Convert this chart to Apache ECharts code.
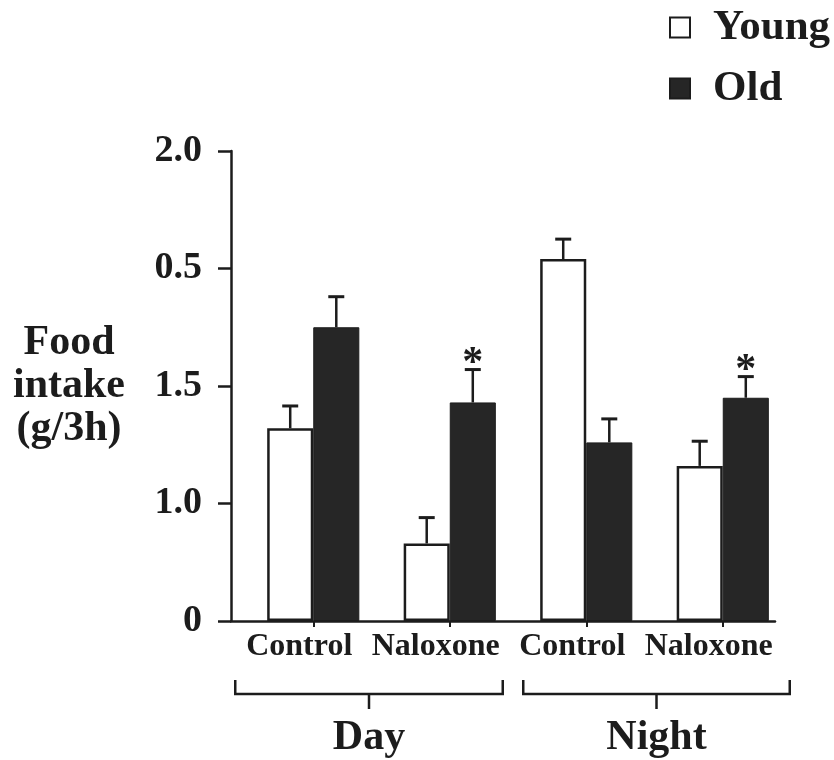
<!DOCTYPE html>
<html>
<head>
<meta charset="utf-8">
<script src="https://cdn.jsdelivr.net/npm/echarts@6/dist/echarts.min.js"></script>
<style>
html,body{margin:0;padding:0;background:#fff;}
#chart{width:834px;height:760px;}
</style>
</head>
<body>
<div id="chart"></div>
<script>
// ---- data ----
const categories = ['Control', 'Naloxone', 'Control', 'Naloxone'];
const periods = ['Day', 'Day', 'Night', 'Night'];
const groupNames = ['Day', 'Night'];
const young = [0.82, 0.33, 1.54, 0.66];
const youngErr = [0.095, 0.11, 0.085, 0.105];
const old = [1.25, 0.93, 0.76, 0.95];
const oldErr = [0.13, 0.14, 0.10, 0.09];
const oldSig = [false, true, false, true];
const yTickValues = [0, 0.5, 1.0, 1.5, 2.0];
const yTickLabels = ['0', '1.0', '1.5', '0.5', '2.0'];

const FONT = '"Liberation Serif", "Times New Roman", serif';
const INK = '#1c1c1c';
const GAP = 0.325;

const chart = echarts.init(document.getElementById('chart'));

const errData = [];
young.forEach((v, i) => errData.push([i, v, youngErr[i], -1, 0]));
old.forEach((v, i) => errData.push([i, v, oldErr[i], 1, oldSig[i] ? 1 : 0]));

const option = {
  animation: false,
  backgroundColor: '#fff',
  legend: {
    data: ['Young', 'Old'],
    orient: 'vertical',
    left: 664,
    top: 1,
    icon: 'rect',
    itemWidth: 20,
    itemHeight: 20,
    itemGap: 18,
    textStyle: { fontFamily: FONT, fontWeight: 'bold', fontSize: 43, color: INK, lineHeight: 43, padding: [0, 0, 0, 18] }
  },
  grid: [
    { left: 245, width: 546, top: 151, height: 470 },
    { left: 231, width: 544, top: 151, height: 470 }
  ],
  xAxis: [
    {
      type: 'category', gridIndex: 0,
      data: categories.map((c, i) => periods[i] + ' ' + c),
      axisLine: { show: false },
      axisTick: { show: true, alignWithLabel: true, length: 6, lineStyle: { color: INK, width: 2 } },
      axisLabel: {
        interval: 0, hideOverlap: false,
        formatter: (v, i) => categories[i],
        fontFamily: FONT, fontWeight: 'bold', fontSize: 32, color: INK,
        margin: 10, padding: [0, 28, 0, 0]
      },
      splitLine: { show: false }
    },
    {
      type: 'value', gridIndex: 1, min: 0, max: 1,
      axisLine: { show: true, onZero: false, lineStyle: { color: INK, width: 2.5 } },
      axisTick: { show: false }, axisLabel: { show: false }, splitLine: { show: false }
    }
  ],
  yAxis: [
    { type: 'value', gridIndex: 0, min: 0, max: 2, show: false },
    {
      type: 'value', gridIndex: 1, min: 0, max: 2, interval: 0.5,
      name: 'Food\nintake\n(g/3h)',
      nameLocation: 'middle', nameRotate: 0, nameGap: 162,
      nameTextStyle: {
        fontFamily: FONT, fontWeight: 'bold', fontSize: 42, color: INK,
        align: 'center', verticalAlign: 'middle', lineHeight: 43, padding: [0, 0, 12, 0]
      },
      axisLine: { show: true, lineStyle: { color: INK, width: 2.5 } },
      axisTick: { show: true, length: 13, lineStyle: { color: INK, width: 2.5 } },
      axisLabel: {
        formatter: (v) => { const k = yTickValues.indexOf(+v.toFixed(2)); return k >= 0 ? yTickLabels[k] : ''; },
        fontFamily: FONT, fontWeight: 'bold', fontSize: 38, color: INK, margin: 29
      },
      splitLine: { show: false }
    }
  ],
  series: [
    {
      name: 'Young', type: 'bar', xAxisIndex: 0, yAxisIndex: 0,
      data: young, barGap: '0%', barCategoryGap: (GAP * 100) + '%',
      itemStyle: { color: '#ffffff', borderColor: INK, borderWidth: 2.5 }
    },
    {
      name: 'Old', type: 'bar', xAxisIndex: 0, yAxisIndex: 0,
      data: old, barGap: '0%', barCategoryGap: (GAP * 100) + '%',
      itemStyle: { color: '#262626', borderColor: INK, borderWidth: 1 }
    },
    {
      name: 'err', type: 'custom', xAxisIndex: 0, yAxisIndex: 0, z: 5, clip: false,
      encode: { x: 0, y: 1 },
      data: errData,
      renderItem: function (params, api) {
        const idx = api.value(0), v = api.value(1), e = api.value(2), side = api.value(3), sig = api.value(4);
        const band = api.size([1, 0])[0];
        const barW = band * (1 - GAP) / 2;
        const base = api.coord([idx, v]);
        const top = api.coord([idx, v + e]);
        const x = base[0] + side * barW / 2;
        const cap = 16;
        const children = [
          { type: 'line', shape: { x1: x, y1: base[1], x2: x, y2: top[1] }, style: { stroke: INK, lineWidth: 2.5 } },
          { type: 'line', shape: { x1: x - cap / 2, y1: top[1], x2: x + cap / 2, y2: top[1] }, style: { stroke: INK, lineWidth: 3 } }
        ];
        if (sig) {
          children.push({
            type: 'text',
            style: { text: '*', x: x, y: top[1] - 5, font: 'bold 42px ' + FONT, align: 'center', verticalAlign: 'middle', fill: INK }
          });
        }
        return { type: 'group', children: children };
      }
    }
  ]
};
chart.setOption(option);

// group brackets (Day / Night) positioned from the category axis
const bracketInset = [[-78, 53], [-63, 67]];
const graphics = [];
groupNames.forEach((g, gi) => {
  const idxs = periods.map((p, i) => p === g ? i : -1).filter(i => i >= 0);
  const x0 = chart.convertToPixel({ xAxisIndex: 0 }, idxs[0]) + bracketInset[gi][0];
  const x1 = chart.convertToPixel({ xAxisIndex: 0 }, idxs[idxs.length - 1]) + bracketInset[gi][1];
  const y = 694, yEnd = 680, yTick = 709;
  const xm = (x0 + x1) / 2;
  graphics.push({
    type: 'polyline', silent: true,
    shape: { points: [[x0, yEnd], [x0, y], [x1, y], [x1, yEnd]] },
    style: { stroke: INK, lineWidth: 2.5, fill: null }
  });
  graphics.push({
    type: 'line', silent: true,
    shape: { x1: xm, y1: y, x2: xm, y2: yTick },
    style: { stroke: INK, lineWidth: 2.5 }
  });
  graphics.push({
    type: 'text', silent: true,
    style: { text: g, x: xm, y: 738, font: 'bold 42px ' + FONT, align: 'center', verticalAlign: 'middle', fill: INK }
  });
});
chart.setOption({ graphic: graphics });
</script>
</body>
</html>
